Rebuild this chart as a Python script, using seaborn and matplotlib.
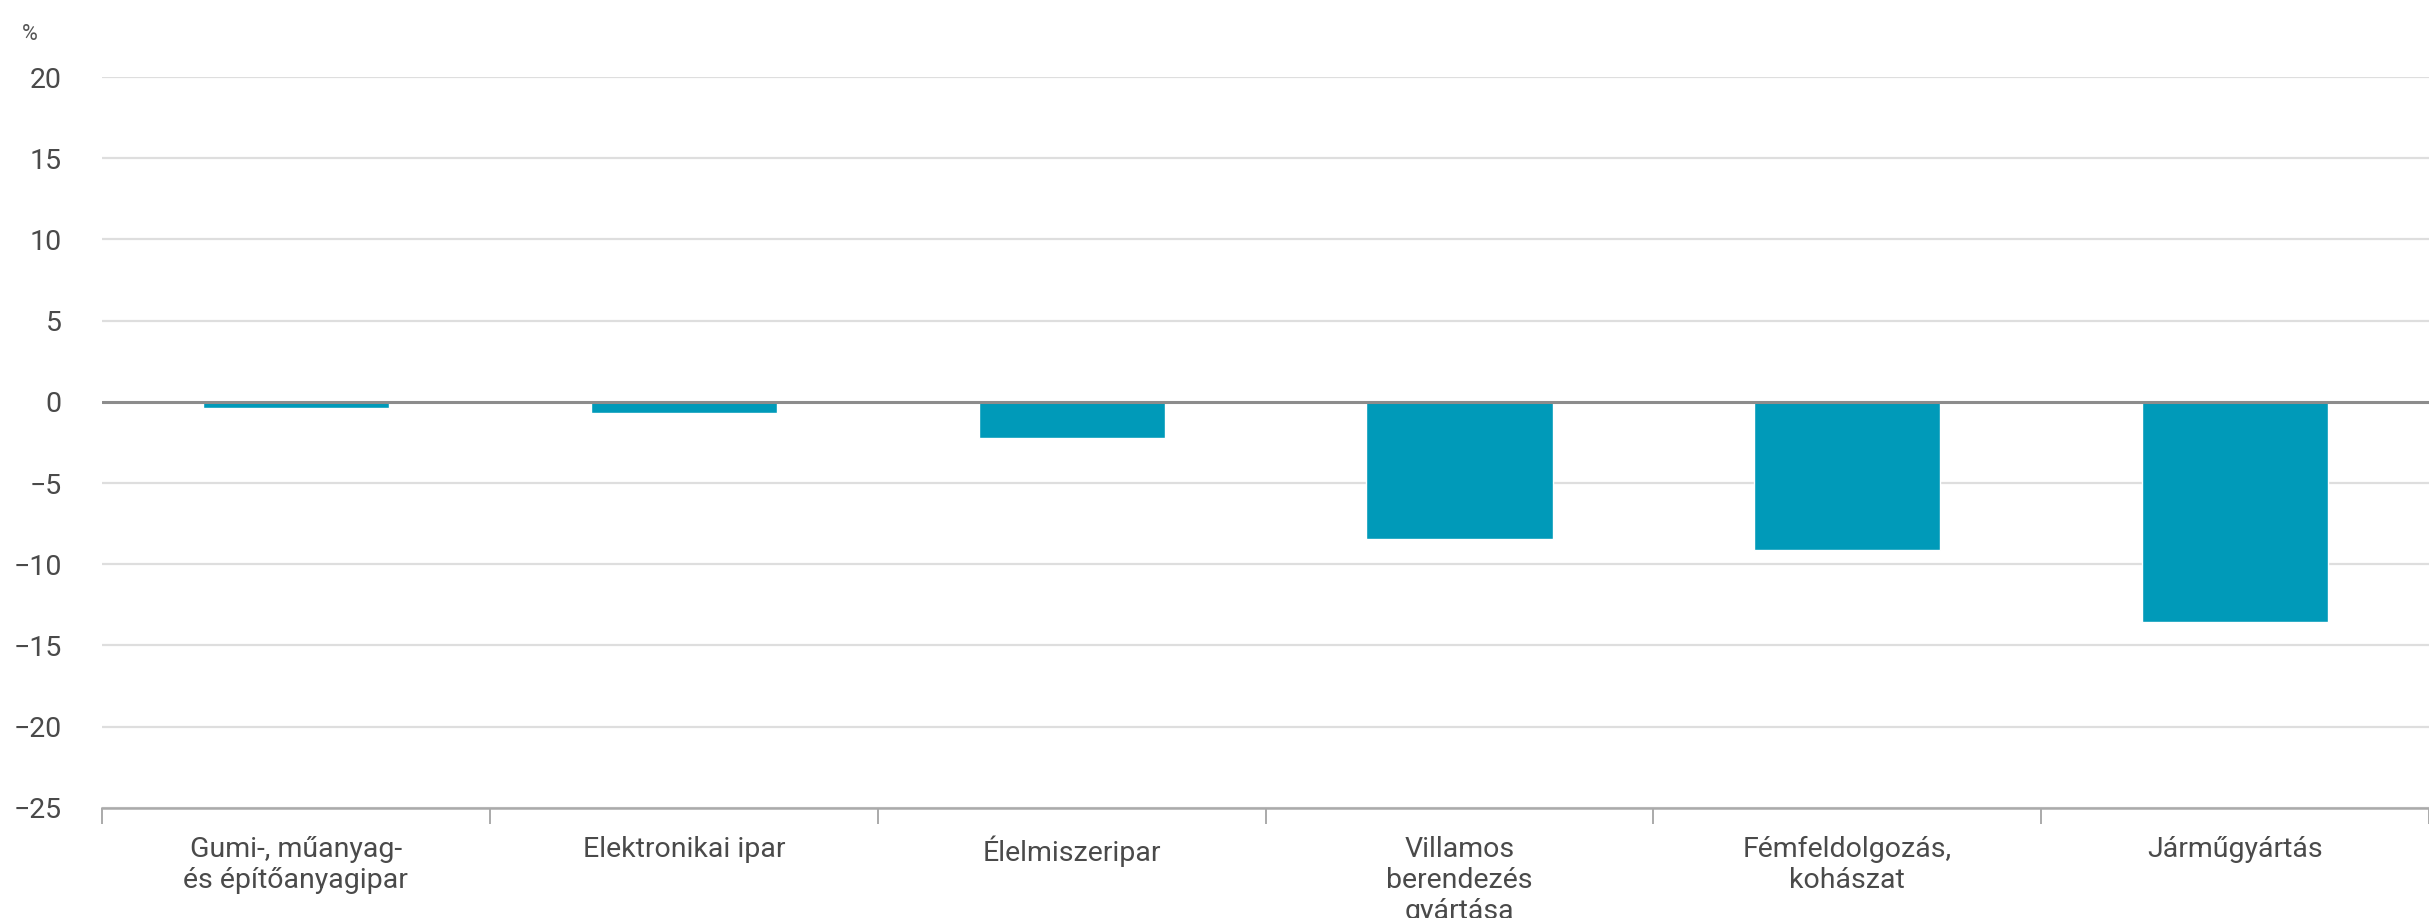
import numpy as np
import matplotlib
matplotlib.use("Agg")
import matplotlib.pyplot as plt
import seaborn as sns

# data
categories = ["Gumi-, műanyag-\nés építőanyagipar", "Elektronikai ipar", "Élelmiszeripar",
              "Villamos\nberendezés\ngyártása", "Fémfeldolgozás,\nkohászat", "Járműgyártás"]
values = [-0.35, -0.7, -2.2, -8.45, -9.1, -13.55]
yticks = [20, 15, 10, 5, 0, -5, -10, -15, -20, -25]

sns.set_style("white")
plt.rcParams['font.family'] = ['Roboto', 'DejaVu Sans']
plt.rcParams['axes.unicode_minus'] = True

fig = plt.figure(figsize=(24.29, 9.18), dpi=100)
ax = fig.add_axes([0.042, 0.12, 0.958, 0.796])

ax.set_axisbelow(True)
for t in yticks:
    if t != 0:
        ax.axhline(t, color="#dedede", lw=1.6, zorder=0)

sns.barplot(x=categories, y=values, color="#009ab9", width=0.48,
            saturation=1, ax=ax, zorder=2)
ax.axhline(0, color="#8c8c8c", lw=2.2, zorder=3)

ax.set_xlim(-0.5, len(categories) - 0.5)
ax.set_ylim(-25, 20)
ax.set_yticks(yticks)
ax.set_yticklabels([str(t).replace("-", "\u2212") for t in yticks])
ax.tick_params(axis="y", length=0, pad=29, labelsize=20.5, labelcolor="#4a4a4a")
ax.tick_params(axis="x", which="major", length=0, pad=20, labelsize=20.5, labelcolor="#4a4a4a")
ax.set_xticks(np.arange(-0.5, len(categories), 1), minor=True)
ax.tick_params(axis="x", which="minor", bottom=True, length=11.5, width=1.4, color="#aaaaaa")
ax.set_xlabel("")
ax.set_ylabel("")

for s in ["top", "right", "left"]:
    ax.spines[s].set_visible(False)
ax.spines["bottom"].set_color("#aaaaaa")
ax.spines["bottom"].set_linewidth(1.8)

fig.text(0.009, 0.974, "%", fontsize=15.5, color="#555555", va="top", ha="left")

fig.savefig("out.png", dpi=100)
